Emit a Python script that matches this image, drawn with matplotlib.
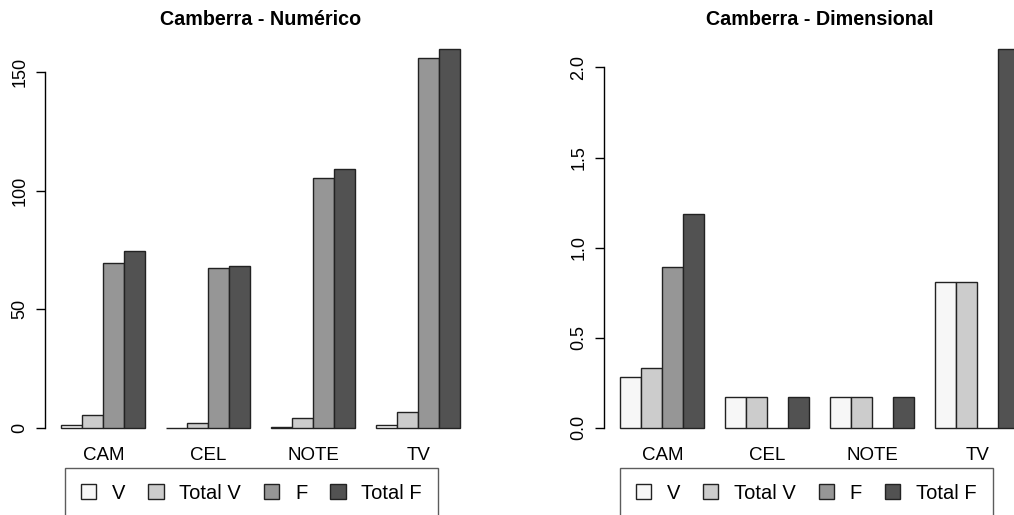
import numpy as np
import matplotlib
matplotlib.use("Agg")
import matplotlib.pyplot as plt
from matplotlib.patches import Patch

plt.rcParams['font.family'] = ['Liberation Sans', 'DejaVu Sans']

categories = ['CAM', 'CEL', 'NOTE', 'TV']
series = ['V', 'Total V', 'F', 'Total F']
colors = ['#f7f7f7', '#cccccc', '#969696', '#525252']

# Camberra - Numérico
num_v = [1.3, 0.0, 0.3, 1.0]
num_total_v = [5.6, 2.2, 4.2, 6.5]
num_f = [69.3, 67.5, 105.4, 156.1]
num_total_f = [74.4, 68.4, 109.0, 159.8]

# Camberra - Dimensional
dim_v = [0.28, 0.17, 0.17, 0.807]
dim_total_v = [0.33, 0.17, 0.17, 0.807]
dim_f = [0.89, 0.0, 0.0, 0.0]
dim_total_f = [1.187, 0.17, 0.17, 2.104]


def grouped_bars(ax, data, title, yticks, ylabels):
    # R style barplot(beside=TRUE): one empty bar width between groups
    n_groups = len(categories)
    n_series = len(data)
    for j, vals in enumerate(data):
        x = 1 + (n_series + 1) * np.arange(n_groups) + j
        ax.bar(x, vals, width=1, align='edge', color=colors[j],
               edgecolor='#222222', linewidth=1)
    right = 1 + (n_series + 1) * (n_groups - 1) + n_series
    ext = 0.04 * (right - 1)
    ax.set_xlim(1 - ext, right + ext)
    ymax = max(max(v) for v in data)
    ax.set_ylim(-0.04 * ymax, 1.04 * ymax)

    centers = 1 + (n_series + 1) * np.arange(n_groups) + n_series / 2
    ax.set_xticks(centers)
    ax.set_xticklabels(categories, fontsize=13.5)
    ax.tick_params(axis='x', length=0, pad=3)

    ax.set_yticks(yticks)
    ax.set_yticklabels(ylabels, rotation=90, va='center', fontsize=13)
    ax.tick_params(axis='y', length=6.3, width=1, pad=6, direction='out')

    for s in ['top', 'right', 'bottom']:
        ax.spines[s].set_visible(False)
    ax.spines['left'].set_bounds(yticks[0], yticks[-1])
    ax.spines['left'].set_linewidth(1)
    ax.set_title(title, fontsize=14.2, fontweight='bold', pad=6.2)


fig = plt.figure(figsize=(10.14, 5.15), dpi=100)
ax1 = fig.add_axes([0.0447, 0.1398, 0.4248, 0.795])
ax2 = fig.add_axes([0.596, 0.1398, 0.4248, 0.795])

grouped_bars(ax1, [num_v, num_total_v, num_f, num_total_f],
             'Camberra - Numérico', [0, 50, 100, 150], ['0', '50', '100', '150'])
grouped_bars(ax2, [dim_v, dim_total_v, dim_f, dim_total_f],
             'Camberra - Dimensional', [0, 0.5, 1.0, 1.5, 2.0],
             ['0.0', '0.5', '1.0', '1.5', '2.0'])

handles = [Patch(facecolor=c, edgecolor='#222222', linewidth=1) for c in colors]
for x0 in [65 / 1014, 619.7 / 1014]:
    leg = fig.legend(handles, series, loc='upper left',
                     bbox_to_anchor=(x0, 1 - 467.7 / 515), ncol=4,
                     fontsize=14.5, frameon=True, fancybox=False,
                     handlelength=0.75, handleheight=0.75, handletextpad=0.78,
                     columnspacing=1.15, borderpad=0.8, borderaxespad=0)
    leg.get_frame().set_edgecolor('#333333')
    leg.get_frame().set_linewidth(1)

fig.savefig('out.png', dpi=100)
